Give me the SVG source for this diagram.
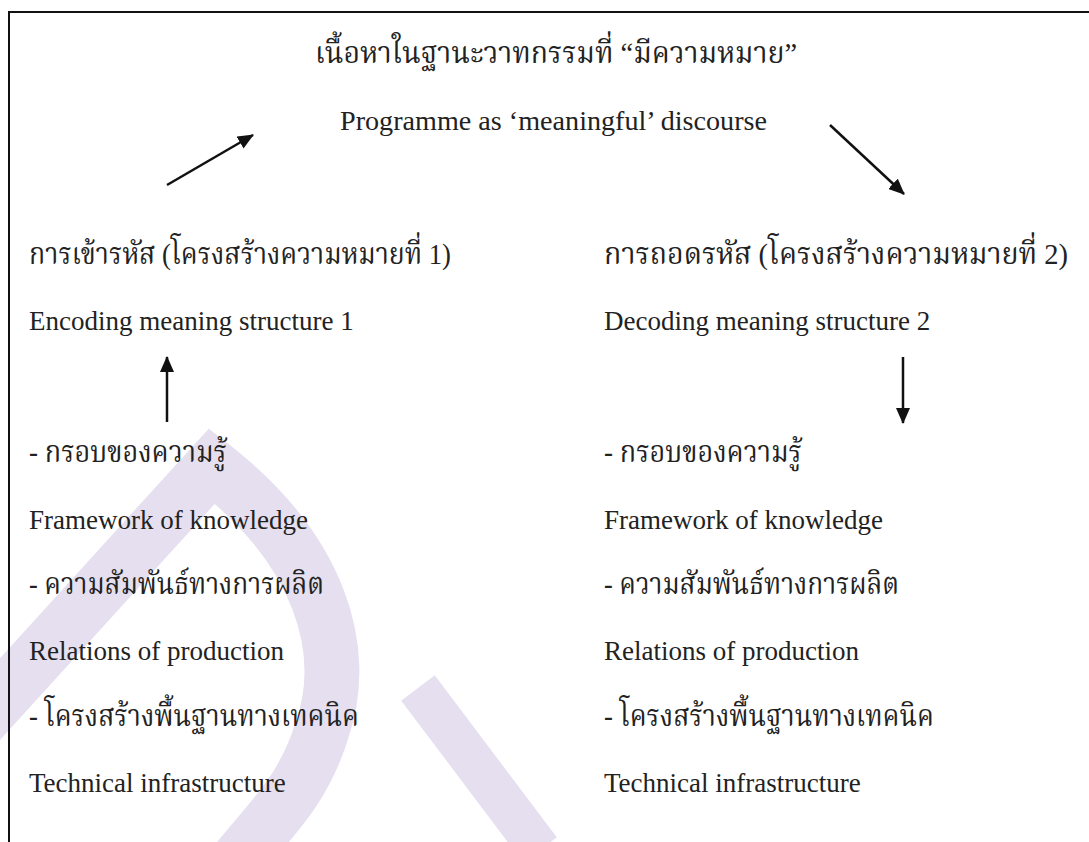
<svg xmlns="http://www.w3.org/2000/svg" width="1089" height="842" viewBox="0 0 1089 842">
<defs>
<marker id="ah" markerUnits="userSpaceOnUse" markerWidth="16" markerHeight="14" refX="15" refY="7" orient="auto">
<path d="M0,0 L16,7 L0,14 Z" fill="#111"/>
</marker>
<style>
.en{font-family:"Liberation Serif","Times New Roman",serif;font-size:27px;fill:#222}
.th{font-family:"Liberation Serif","Noto Serif Thai","Noto Sans Thai","DejaVu Sans",serif;font-size:30px;fill:#222}
.conn{stroke:#111;stroke-width:2.5;fill:none;marker-end:url(#ah)}
.wm{stroke:#e5dfef;fill:none;stroke-linecap:butt}
</style>
</defs>
<rect width="1089" height="842" fill="#fff"/>
<g id="watermark">
<path class="wm" stroke-width="55" d="M -60 765 L 212 466 C 320 550 350 650 322 730 C 304 790 270 820 238 860"/>
<path class="wm" stroke-width="42" d="M 418 688 L 540 850"/>
</g>
<g id="frame" stroke="#111" stroke-width="2">
<line x1="8" y1="12" x2="1089" y2="12"/>
<line x1="9" y1="11" x2="9" y2="842"/>
</g>
<g id="title"><text class="th" x="315" y="63" textLength="482" lengthAdjust="spacingAndGlyphs">เนื้อหาในฐานะวาทกรรมที่ “มีความหมาย”</text></g>
<g id="programme"><text class="en" x="340" y="130" textLength="427" lengthAdjust="spacingAndGlyphs">Programme as ‘meaningful’ discourse</text></g>
<g id="encoding">
<text class="th" x="29" y="264" textLength="422" lengthAdjust="spacingAndGlyphs">การเข้ารหัส (โครงสร้างความหมายที่ 1)</text>
<text class="en" x="29" y="330">Encoding meaning structure 1</text>
</g>
<g id="decoding">
<text class="th" x="604" y="264" font-size="27" textLength="464" lengthAdjust="spacingAndGlyphs">การถอดรหัส (โครงสร้างความหมายที่ 2)</text>
<text class="en" x="604" y="330">Decoding meaning structure 2</text>
</g>
<g id="left-factors">
<text class="th" x="29" y="462" textLength="198" lengthAdjust="spacingAndGlyphs">- กรอบของความรู้</text>
<text class="en" x="29" y="529">Framework of knowledge</text>
<text class="th" x="29" y="594" textLength="295" lengthAdjust="spacingAndGlyphs">- ความสัมพันธ์ทางการผลิต</text>
<text class="en" x="29" y="660">Relations of production</text>
<text class="th" x="29" y="726" textLength="330" lengthAdjust="spacingAndGlyphs">- โครงสร้างพื้นฐานทางเทคนิค</text>
<text class="en" x="29" y="792">Technical infrastructure</text>
</g>
<g id="right-factors">
<text class="th" x="604" y="462" textLength="198" lengthAdjust="spacingAndGlyphs">- กรอบของความรู้</text>
<text class="en" x="604" y="529">Framework of knowledge</text>
<text class="th" x="604" y="594" textLength="295" lengthAdjust="spacingAndGlyphs">- ความสัมพันธ์ทางการผลิต</text>
<text class="en" x="604" y="660">Relations of production</text>
<text class="th" x="604" y="726" textLength="330" lengthAdjust="spacingAndGlyphs">- โครงสร้างพื้นฐานทางเทคนิค</text>
<text class="en" x="604" y="792">Technical infrastructure</text>
</g>
<g id="connectors">
<line class="conn" x1="167" y1="185" x2="253" y2="135"/>
<line class="conn" x1="830" y1="125" x2="904" y2="194"/>
<line class="conn" x1="167" y1="422" x2="167" y2="357"/>
<line class="conn" x1="903" y1="357" x2="903" y2="423"/>
</g>
</svg>
